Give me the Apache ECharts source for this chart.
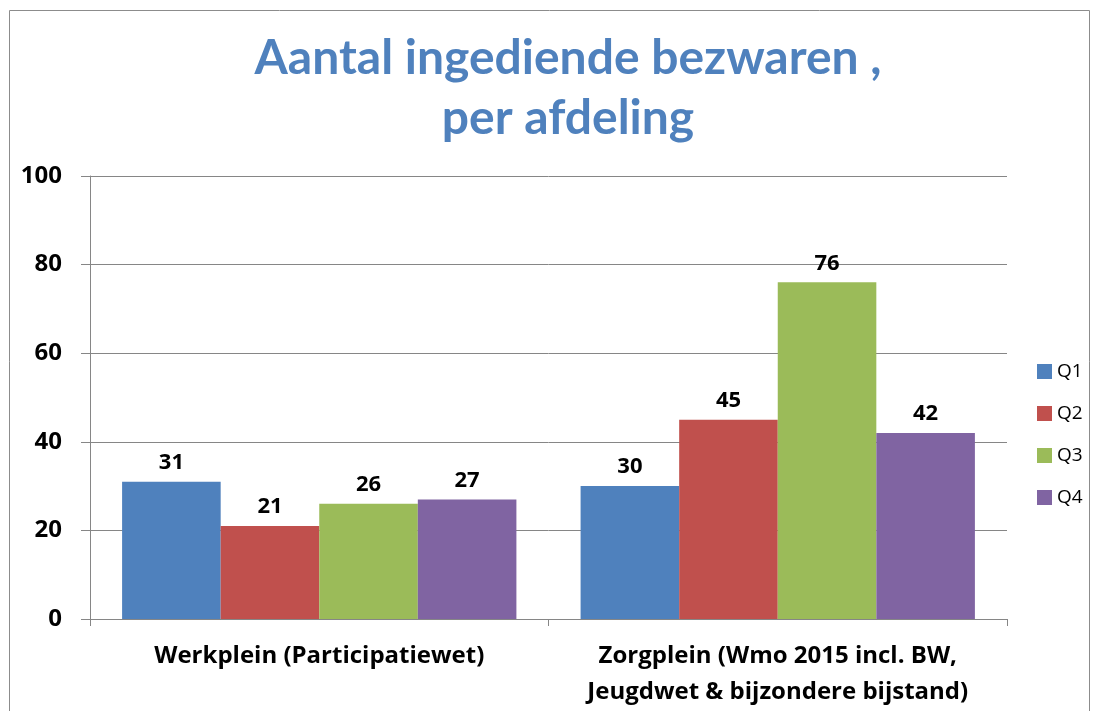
<!DOCTYPE html>
<html>
<head>
<meta charset="utf-8">
<script src="https://cdn.jsdelivr.net/npm/echarts@6/dist/echarts.min.js"></script>
<style>
  html, body { margin: 0; padding: 0; background: #fff; }
  #chart { width: 1094px; height: 711px; }
</style>
</head>
<body>
<div id="chart"></div>
<script>
// afdelingen
const categories = ['Werkplein (Participatiewet)', 'Zorgplein (Wmo 2015 incl. BW,\nJeugdwet & bijzondere bijstand)']
const q1 = [31, 30]
const q2 = [21, 45]
const q3 = [26, 76]
const q4 = [27, 42]
const seriesNames = ['Q1', 'Q2', 'Q3', 'Q4']
const colors = ['#4F81BD', '#C0504D', '#9BBB59', '#8064A2']

const titleFont = 'Lato, "Open Sans", sans-serif'
const font = '"Open Sans", Lato, sans-serif'
const chart = echarts.init(document.getElementById('chart'))

const values = [q1, q2, q3, q4]
chart.setOption({
  animation: false,
  color: colors,
  graphic: [{
    type: 'rect',
    shape: { x: 9.5, y: 10.5, width: 1080, height: 720 },
    style: { fill: 'none', stroke: '#8c8c8c', lineWidth: 1 }
  }],
  title: {
    text: 'Aantal ingediende bezwaren ,\nper afdeling',
    left: 563,
    top: 24,
    textAlign: 'center',
    textStyle: {
      fontFamily: titleFont,
      fontSize: 48,
      fontWeight: 'bold',
      color: '#4F81BD',
      lineHeight: 60
    }
  },
  legend: {
    orient: 'vertical',
    left: 1032,
    top: 357,
    itemWidth: 15,
    itemHeight: 15,
    itemGap: 23,
    icon: 'rect',
    textStyle: { fontFamily: font, fontSize: 19, color: '#000' },
    data: seriesNames
  },
  grid: { left: 90, right: 87, top: 176, bottom: 92 },
  xAxis: {
    type: 'category',
    data: categories,
    axisLine: { lineStyle: { color: '#868686' } },
    axisTick: { show: true, length: 7, lineStyle: { color: '#868686' } },
    axisLabel: {
      interval: 0,
      hideOverlap: false,
      fontFamily: font,
      fontSize: 24,
      fontWeight: 'bold',
      color: '#000',
      margin: 19,
      lineHeight: 36
    }
  },
  yAxis: {
    type: 'value',
    min: 0,
    max: 100,
    interval: 20,
    axisLine: { show: true, lineStyle: { color: '#868686' } },
    axisTick: { show: true, length: 9, lineStyle: { color: '#868686' } },
    splitLine: { lineStyle: { color: '#868686' } },
    axisLabel: {
      fontFamily: font,
      fontSize: 24,
      fontWeight: 'bold',
      color: '#000',
      margin: 28
    }
  },
  series: seriesNames.map((name, i) => ({
    name: name,
    type: 'bar',
    data: values[i],
    barGap: '0%',
    barCategoryGap: '14%',
    label: {
      show: true,
      position: 'top',
      distance: 8,
      fontFamily: font,
      fontSize: 22,
      fontWeight: 'bold',
      color: '#000'
    }
  }))
})
</script>
</body>
</html>
